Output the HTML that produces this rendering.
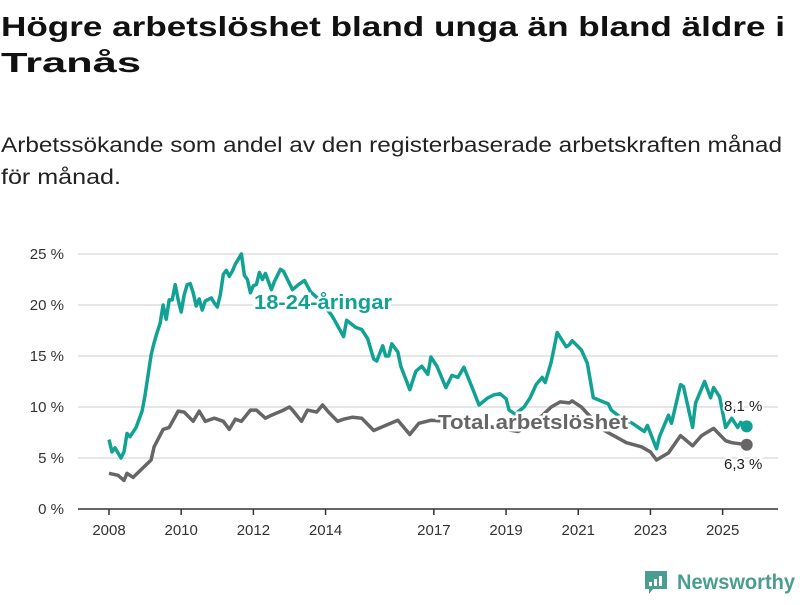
<!DOCTYPE html>
<html><head><meta charset="utf-8"><style>
body{margin:0;background:#fff;}
svg text{font-family:"Liberation Sans",sans-serif;}
</style></head><body>
<svg id="chart" width="800" height="600" viewBox="0 0 800 600" xmlns="http://www.w3.org/2000/svg">
<text x="1" y="36" font-size="28" font-weight="bold" fill="#111" textLength="784" lengthAdjust="spacingAndGlyphs">Högre arbetslöshet bland unga än bland äldre i</text>
<text x="1" y="72" font-size="28" font-weight="bold" fill="#111" textLength="140" lengthAdjust="spacingAndGlyphs">Tranås</text>
<text x="1" y="152" font-size="21" fill="#222" textLength="781" lengthAdjust="spacingAndGlyphs">Arbetssökande som andel av den registerbaserade arbetskraften månad</text>
<text x="1" y="184" font-size="21" fill="#222" textLength="120" lengthAdjust="spacingAndGlyphs">för månad.</text>
<g id="grid"></g><g id="axes"></g><g id="series"></g><g id="labels"></g>
<g>
<path d="M645 571 h22 v18 h-14 l-4 5 v-5 h-4 z" fill="#4a9d90"/>
<rect x="649" y="582" width="3" height="4" fill="#fff"/><rect x="654" y="579" width="3" height="7" fill="#fff"/><rect x="659" y="576" width="3" height="10" fill="#fff"/>
<text x="677" y="589" font-size="21" font-weight="bold" fill="#4a9d90" textLength="118" lengthAdjust="spacingAndGlyphs">Newsworthy</text>
</g>
</svg>
<script>
// months since Jan 2008
const youthMonths=[0,1,2,4,5,6,7,9,11,12,14,15,16,17,18,19,20,21,22,23,24,25,26,27,28,29,30,31,32,34,35,36,37,38,39,40,41,42,44,45,46,47,48,49,50,51,52,54,55,57,58,61,63,65,67,70,74,75,78,79,82,84,86,88,89,91,92,93,94,96,97,100,102,104,106,107,109,112,114,116,118,121,123,126,128,130,132,133,135,138,140,142,144,145,147,149,152,153,154,157,159,161,166,167,170,174,178,179,182,183,186,187,190,191,194,195,198,200,201,203,205,207,209,210,212];
const youthValues=[6.8,5.6,6.0,5.0,5.6,7.4,7.1,8.0,9.6,11.2,15.1,16.3,17.3,18.2,20.0,18.6,20.5,20.5,22.0,20.5,19.3,21.0,22.0,22.1,21.2,19.9,20.6,19.5,20.4,20.7,20.2,19.8,21.0,23.0,23.4,22.8,23.3,24.0,25.0,22.9,22.5,21.2,21.9,22.0,23.2,22.5,23.1,21.5,22.3,23.5,23.3,21.5,22.0,22.4,21.3,20.5,19.0,18.5,16.9,18.5,17.8,17.6,16.7,14.7,14.5,16.0,15.0,15.0,16.2,15.4,14.0,11.7,13.5,14.0,13.2,14.9,14.0,11.9,13.1,12.9,13.9,11.7,10.2,10.9,11.2,11.3,10.8,9.7,9.3,10.0,10.9,12.2,12.9,12.4,14.4,17.3,15.9,16.1,16.5,15.6,14.3,10.9,10.3,9.7,9.0,8.4,7.6,8.2,5.9,7.1,9.2,8.4,12.2,12.0,8.0,10.4,12.5,10.9,11.9,11.0,8.0,8.9,8.0,8.5,8.1];
const totalMonths=[0,3,5,6,8,14,15,18,20,23,25,28,30,32,35,38,40,42,44,47,49,52,54,58,60,61,64,66,69,71,73,76,78,81,84,88,92,96,100,103,107,112,120,128,136,142,147,150,153,154,157,164,172,177,180,182,186,190,194,197,201,205,207,212];
const totalValues=[3.5,3.3,2.8,3.5,3.1,4.8,6.1,7.8,8.0,9.6,9.5,8.6,9.6,8.6,8.9,8.6,7.8,8.8,8.6,9.7,9.7,8.9,9.2,9.7,10.0,9.7,8.6,9.7,9.5,10.2,9.5,8.6,8.8,9.0,8.9,7.7,8.2,8.7,7.3,8.4,8.7,8.6,8.4,8.0,7.6,8.6,10.0,10.5,10.4,10.6,10.0,7.8,6.5,6.1,5.6,4.8,5.5,7.2,6.2,7.2,7.9,6.7,6.5,6.3];
const yTicks=[0,5,10,15,20,25];
const yTickLabels=["0 %","5 %","10 %","15 %","20 %","25 %"];
const xTickYears=[2008,2010,2012,2014,2017,2019,2021,2023,2025];
const NS="http://www.w3.org/2000/svg";
function x(m){return 109+m*3.008;}
function xYear(yr){return x((yr-2008)*12);}
function y(v){return 509-v*10.2;}
function mk(tag,attrs,parent){const e=document.createElementNS(NS,tag);for(const k in attrs)e.setAttribute(k,attrs[k]);parent.appendChild(e);return e;}
const grid=document.getElementById('grid'),axes=document.getElementById('axes'),series=document.getElementById('series'),labels=document.getElementById('labels');
yTicks.forEach((t,i)=>{
 if(t>0){const g=mk('line',{x1:78,x2:778,y1:y(t),y2:y(t),stroke:'#ddd','stroke-width':1.5},grid);
 
 }
 const tx=mk('text',{x:64,y:y(t)+5,'text-anchor':'end','font-size':15,fill:'#333'},axes);
 tx.textContent=yTickLabels[i];
 
 
});
const ax=mk('line',{x1:78,x2:778,y1:509,y2:509,stroke:'#333','stroke-width':1.5},axes);


xTickYears.forEach(yr=>{
 const tk=mk('line',{x1:xYear(yr),x2:xYear(yr),y1:509,y2:515,stroke:'#333','stroke-width':1.5},axes);
 
 
 const tl=mk('text',{x:xYear(yr),y:535,'text-anchor':'middle','font-size':15,fill:'#333'},axes);
 tl.textContent=yr;
 
 
});
function line(ms,vs,color,name){
 const d=ms.map((m,i)=>(i?'L':'M')+x(m).toFixed(1)+' '+y(vs[i]).toFixed(1)).join(' ');
 const p=mk('path',{d:d,fill:'none',stroke:color,'stroke-width':3.5,'stroke-linejoin':'round'},series);
 
 
 const n=ms.length-1;
 const c=mk('circle',{cx:x(ms[n]),cy:y(vs[n]),r:6,fill:color},series);
 
 
}
line(totalMonths,totalValues,'#666','total-line');
line(youthMonths,youthValues,'#12a293','youth-line');
function lbl(tx,x0,y0,col,size,bold,name,len){
 const a={x:x0,y:y0,'font-size':size,'font-weight':bold?'bold':'normal',fill:col,stroke:'#fff','stroke-width':bold?5:4,'paint-order':'stroke'};
 if(len){a.textLength=len;a.lengthAdjust='spacingAndGlyphs';}
 const t=mk('text',a,labels);
 t.textContent=tx;
 
 
}
lbl('18-24-åringar',254,309,'#12a293',20,true,'youth-series-label',138);
lbl('Total arbetslöshet',438,429,'#666',20,true,'total-series-label',190);
const yl=youthValues.length-1,tl2=totalValues.length-1;
lbl(youthValues[yl].toFixed(1).replace('.',',')+' %',724,411,'#222',15,false,'youth-end-value');
lbl(totalValues[tl2].toFixed(1).replace('.',',')+' %',724,469,'#222',15,false,'total-end-value');
</script>
</body></html>
